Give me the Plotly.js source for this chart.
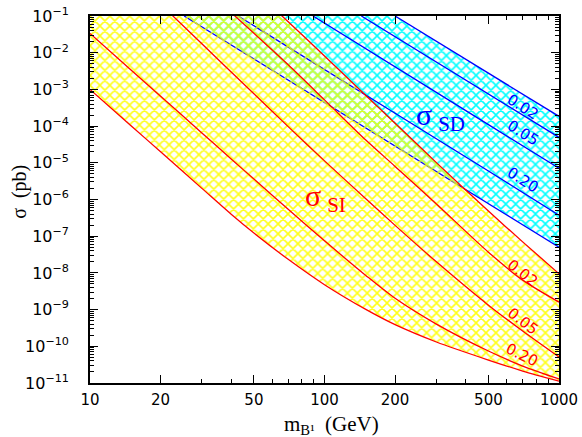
<!DOCTYPE html>
<html><head><meta charset="utf-8">
<script src="https://cdn.plot.ly/plotly-3.0.1.min.js"></script>
<style>html,body{margin:0;padding:0;background:#fff}#chart{width:582px;height:437px}</style>
</head><body><div id="chart"></div>
<script>
// ---- Spin-independent (red) curves: B1 mass (GeV) and cross-section (pb) ----
const siMass      = [10,15,20,30,40,50,70,100,150,200,300,500,700,1000];
const siLower     = [1.0e-3,1.01e-4,1.99e-5,2.01e-6,3.97e-7,1.22e-7,2.34e-8,4.76e-9,1.01e-9,3.88e-10,1.31e-10,4.23e-11,2.12e-11,1.13e-11];
const si020       = [3.34e-2,3.33e-3,6.53e-4,6.52e-5,1.27e-5,3.60e-6,5.43e-7,7.50e-8,8.53e-9,2.03e-9,4.03e-10,7.43e-11,2.90e-11,1.29e-11];
const si005Mass   = [20,30,40,50,70,100,150,200,300,500,700,1000];
const si005       = [0.21,1.75e-2,2.99e-3,7.64e-4,9.66e-5,1.13e-5,1.05e-6,1.97e-7,2.00e-8,1.32e-9,2.60e-10,5.09e-11];
const si002Mass   = [40,50,70,100,150,200,300,500,700,1000];
const si002       = [0.124,3.37e-2,4.67e-3,5.18e-4,4.17e-5,7.98e-6,7.57e-7,3.67e-8,6.35e-9,1.60e-9];
const siUpperMass = [10,20,30,40,50,70,100,150,200,300,500,700,1000];
const siUpper     = [8e3,127,11.2,2.0,0.52,6.95e-2,8.17e-3,6.82e-4,1.20e-4,1.01e-5,4.85e-7,7.0e-8,9.48e-9];

// ---- Spin-dependent (blue) curves ----
const sdUpperMass = [200,500,1000];
const sdUpper     = [0.1,2.76e-3,1.84e-4];
const sd002Mass   = [143.6,200,500,1000];
const sd002       = [0.1,2.74e-2,7.50e-4,4.94e-5];
const sd005Mass   = [89.3,100,200,500,1000];
const sd005       = [0.1,6.41e-2,4.12e-3,1.10e-4,7.08e-6];
const sd020Mass   = [42.8,50,100,200,500,1000];
const sd020       = [0.1,5.38e-2,3.47e-3,2.24e-4,5.98e-6,3.72e-7];
const sdLowerMass = [25.2,30,50,100,200,500,1000];
const sdLower     = [0.1,5.02e-2,6.71e-3,4.38e-4,2.84e-5,7.76e-7,5.02e-8];

// ---- Labels and ticks ----
const deltaLabels = ['0.02','0.05','0.20'];
const xTickVals = [10,20,50,100,200,500,1000];
const xTickText = ['10','20','50','100','200','500','1000'];
const xMinorVals = [30,40,60,70,80,90,300,400,600,700,800,900];
const yExponents = [-11,-10,-9,-8,-7,-6,-5,-4,-3,-2,-1];

const yTickVals = yExponents.map(e => Math.pow(10, e));
const yTickText = yExponents.map(e => '10<sup>\u2212' + Math.abs(e) + '</sup>');
const yMinorVals = [];
yExponents.slice(0, -1).forEach(e => { for (let k = 2; k <= 9; k++) yMinorVals.push(k * Math.pow(10, e)); });

const RED = '#ff0000', BLUE = '#0000ff';
const rev = a => a.slice().reverse();
const redLine = {color:RED, width:1.3, shape:'spline', smoothing:0.8};
const blueLine = {color:BLUE, width:1.3};

const traces = [
  // cyan SD band
  {x: sdLowerMass.concat(rev(sdUpperMass)), y: sdLower.concat(rev(sdUpper)), mode:'none', fill:'toself',
   fillcolor:'rgba(0,0,0,0)', fillpattern:{shape:'x', fgcolor:'#00ffff', bgcolor:'rgba(0,0,0,0)', size:7, solidity:0.4}, hoverinfo:'skip'},
  {x: sdUpperMass, y: sdUpper, mode:'lines', line:blueLine},
  {x: sd002Mass, y: sd002, mode:'lines', line:blueLine},
  {x: sd005Mass, y: sd005, mode:'lines', line:blueLine},
  {x: sd020Mass, y: sd020, mode:'lines', line:blueLine},
  {x: sdLowerMass, y: sdLower, mode:'lines', line:blueLine},
  // yellow SI band
  {x: siMass.concat(rev(siUpperMass)), y: siLower.concat(rev(siUpper)), mode:'none', fill:'toself',
   fillcolor:'rgba(0,0,0,0)', fillpattern:{shape:'x', fgcolor:'#ffff00', bgcolor:'rgba(0,0,0,0)', fgopacity:0.9, size:7, solidity:0.4}, hoverinfo:'skip'},
  {x: siMass, y: siLower, mode:'lines', line:redLine},
  {x: siMass, y: si020, mode:'lines', line:redLine},
  {x: si005Mass, y: si005, mode:'lines', line:redLine},
  {x: si002Mass, y: si002, mode:'lines', line:redLine},
  {x: siUpperMass, y: siUpper, mode:'lines', line:redLine}
];

const numFont = c => ({family:'DejaVu Sans', size:15, color:c});
const ann = (x, y, text, angle, color) => ({xref:'paper', yref:'paper', x:x, y:y, text:text, textangle:angle,
  showarrow:false, font:numFont(color), xanchor:'center', yanchor:'middle'});

const annotations = [
  ann(0.923, 0.752, deltaLabels[0], 32, BLUE),
  ann(0.923, 0.680, deltaLabels[1], 32, BLUE),
  ann(0.923, 0.553, deltaLabels[2], 32, BLUE),
  ann(0.922, 0.300, deltaLabels[0], 38, RED),
  ann(0.922, 0.168, deltaLabels[1], 38, RED),
  ann(0.921, 0.075, deltaLabels[2], 26, RED),
  {xref:'paper', yref:'paper', x:0.748, y:0.726, text:'\u03c3\u2009<sub>SD</sub>', showarrow:false,
   font:{family:'Liberation Serif', size:30, color:BLUE}, xanchor:'center', yanchor:'middle'},
  {xref:'paper', yref:'paper', x:0.502, y:0.505, text:'\u03c3\u2009<sub>SI</sub>', showarrow:false,
   font:{family:'Liberation Serif', size:30, color:RED}, xanchor:'center', yanchor:'middle'},
  // axis titles
  {xref:'paper', yref:'paper', x:0.515, y:-0.114, text:'m<sub>B\u00b9</sub>  (GeV)', showarrow:false,
   font:{family:'Liberation Serif', size:21, color:'#000'}, xanchor:'center', yanchor:'middle'},
  {xref:'paper', yref:'paper', x:-0.152, y:0.52, text:'\u03c3  (pb)', textangle:-90, showarrow:false,
   font:{family:'Liberation Serif', size:20, color:'#000'}, xanchor:'center', yanchor:'middle'}
];

const axisCommon = {
  type:'log', showgrid:false, zeroline:false, showline:true, linecolor:'#000', linewidth:1.6,
  mirror:'ticks', ticks:'inside', ticklen:8, tickwidth:1.2, tickcolor:'#000',
  tickfont:{family:'DejaVu Sans', size:15, color:'#000'}
};

const layout = {
  width:582, height:437, margin:{l:90, r:23, t:16, b:54},
  paper_bgcolor:'#fff', plot_bgcolor:'#fff', showlegend:false,
  xaxis: Object.assign({}, axisCommon, {
    range:[1,3], tickmode:'array', tickvals:xTickVals, ticktext:xTickText, ticklabelstandoff:2,
    minor:{tickmode:'array', tickvals:xMinorVals, ticks:'inside', ticklen:4, tickwidth:1, tickcolor:'#000', showgrid:false}
  }),
  yaxis: Object.assign({}, axisCommon, {
    range:[-11,-1], tickmode:'array', tickvals:yTickVals, ticktext:yTickText, ticklabelstandoff:16,
    tickfont:{family:'DejaVu Sans', size:16, color:'#000'},
    minor:{tickmode:'array', tickvals:yMinorVals, ticks:'inside', ticklen:4, tickwidth:1, tickcolor:'#000', showgrid:false}
  }),
  annotations: annotations
};

Plotly.newPlot('chart', traces, layout, {displayModeBar:false});
</script>
</body></html>
